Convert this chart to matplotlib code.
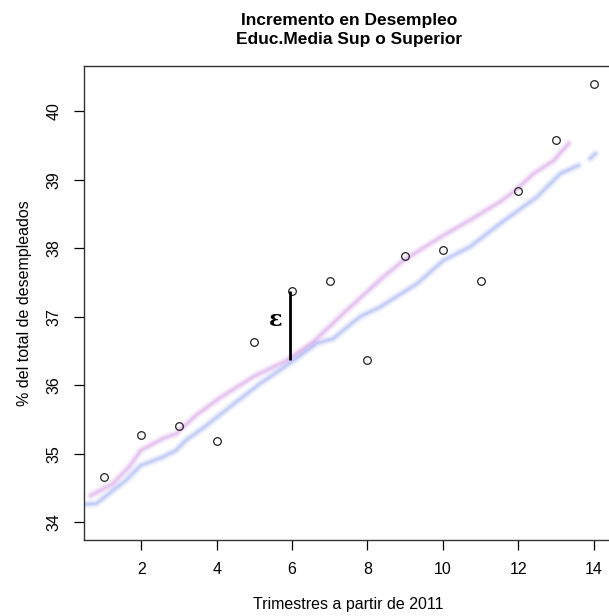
import numpy as np
import matplotlib
matplotlib.use("Agg")
import matplotlib.pyplot as plt

plt.rcParams['font.family'] = ['Liberation Sans', 'DejaVu Sans']

# observed points
trimestre = [1, 2, 3, 4, 5, 6, 7, 8, 9, 10, 11, 12, 13, 14]
pct_desemp = [34.66, 35.27, 35.40, 35.18, 36.63, 37.38, 37.52, 36.37,
              37.89, 37.97, 37.52, 38.83, 39.58, 40.40]

# fitted curve (pink)
pink_x = [0.66, 1.24, 1.68, 1.99, 2.57, 2.92, 3.45, 4.07, 4.96, 5.85, 6.56,
          7.44, 8.42, 8.95, 9.93, 10.72, 11.52, 11.87, 12.41, 12.94, 13.34]
pink_y = [34.39, 34.56, 34.81, 35.05, 35.22, 35.29, 35.56, 35.81, 36.12, 36.36,
          36.63, 37.09, 37.58, 37.82, 38.16, 38.41, 38.68, 38.82, 39.09, 39.28, 39.53]

# fitted curve (blue), gap near the end
blue_x = [0.40, 0.80, 1.15, 1.59, 1.99, 2.57, 2.92, 3.19, 3.63, 4.25, 5.14, 5.94,
          6.65, 7.09, 7.80, 8.33, 9.31, 10.01, 10.72, 11.52, 12.50, 13.12, 13.60,
          np.nan, 13.91, 14.05]
blue_y = [34.26, 34.27, 34.42, 34.61, 34.83, 34.95, 35.05, 35.20, 35.37, 35.64,
          36.02, 36.32, 36.61, 36.68, 37.00, 37.14, 37.48, 37.82, 38.02, 38.36,
          38.75, 39.09, 39.21, np.nan, 39.31, 39.38]

# residual marker
eps_x = 5.94
eps_low = 36.37
eps_high = 37.37

fig = plt.figure(figsize=(6.09, 6.16), dpi=100)
ax = fig.add_axes([0.138, 0.1234, 0.869, 0.7695])

# blurred look: stack wide transparent strokes
for lw, a in [(6.5, 0.07), (4.5, 0.10), (3, 0.15), (1.5, 0.2)]:
    ax.plot(pink_x, pink_y, color='#c77ee0', lw=lw, alpha=a,
            solid_capstyle='round', solid_joinstyle='round')
    ax.plot(blue_x, blue_y, color='#7d8ff0', lw=lw, alpha=a,
            solid_capstyle='round', solid_joinstyle='round')

ax.plot(trimestre, pct_desemp, 'o', mfc='none', mec='#222222', ms=5.5, mew=0.9)

ax.vlines(eps_x, eps_low, eps_high, color='black', lw=2)
ax.text(eps_x - 0.38, (eps_low + eps_high) / 2 + 0.08, 'ε', fontsize=16,
        fontweight='bold', family='DejaVu Serif', ha='center', va='center')

ax.set_xlim(0.48, 14.52)
ax.set_ylim(33.74, 40.66)
ax.set_xticks([2, 4, 6, 8, 10, 12, 14])
ax.set_yticks([34, 35, 36, 37, 38, 39, 40])
ax.tick_params(direction='out', length=7, width=0.9, labelsize=11.5, pad=9)
for lab in ax.get_yticklabels():
    lab.set_rotation(90)
    lab.set_va('center')
for s in ax.spines.values():
    s.set_color('#333333')
    s.set_linewidth(1)

ax.set_xlabel('Trimestres a partir de 2011', fontsize=11.5, labelpad=14)
ax.set_ylabel('% del total de desempleados', fontsize=11.5, labelpad=11)
ax.set_title('Incremento en Desempleo\nEduc.Media Sup o Superior',
             fontsize=12.5, fontweight='bold', pad=16, linespacing=1.3)

fig.savefig('out.png', dpi=100)
